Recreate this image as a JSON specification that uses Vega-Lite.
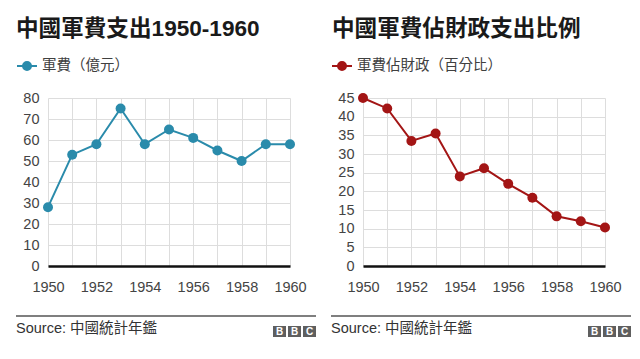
{
  "$schema": "https://vega.github.io/schema/vega-lite/v6.json",
  "padding": {"left": 15, "top": 18, "right": 0, "bottom": 0},
  "background": "white",
  "config": {
    "font": "Liberation Sans, Noto Sans CJK TC, sans-serif",
    "view": {"stroke": null},
    "concat": {"spacing": 13},
    "axis": {
      "labelFont": "Liberation Sans, Noto Sans CJK TC, sans-serif",
      "labelFontSize": 14.5,
      "labelColor": "#444444",
      "gridColor": "#dddddd",
      "gridWidth": 1,
      "ticks": false,
      "domain": false,
      "title": null,
      "labelFlush": false,
      "labelOverlap": false
    },
    "title": {"font": "Liberation Sans, Noto Sans CJK TC, sans-serif", "fontWeight": "bold", "color": "#1a1a1a", "anchor": "start", "offset": 14},
    "legend": {"labelFont": "Liberation Sans, Noto Sans CJK TC, sans-serif", "labelFontSize": 14.5, "labelColor": "#404040", "padding": 0, "title": null}
  },
  "resolve": {"scale": {"color": "independent", "x": "independent", "y": "independent"}, "legend": {"color": "independent"}},
  "hconcat": [
    {
      "spacing": 21,
      "resolve": {"scale": {"color": "independent", "x": "independent", "y": "independent"}, "legend": {"color": "independent"}},
      "vconcat": [
        {
          "title": {"text": "中國軍費支出1950-1960", "fontSize": 22.6},
          "width": 242,
          "height": 168,
          "data": {"values": [
            {"year": 1950, "value": 28},
            {"year": 1951, "value": 53},
            {"year": 1952, "value": 58},
            {"year": 1953, "value": 75},
            {"year": 1954, "value": 58},
            {"year": 1955, "value": 65},
            {"year": 1956, "value": 61},
            {"year": 1957, "value": 55},
            {"year": 1958, "value": 50},
            {"year": 1959, "value": 58},
            {"year": 1960, "value": 58}
          ]},
          "encoding": {
            "x": {"field": "year", "type": "quantitative", "scale": {"domain": [1950, 1960], "nice": false, "zero": false},
              "axis": {"values": [1950,1951,1952,1953,1954,1955,1956,1957,1958,1959,1960], "labelExpr": "datum.value % 2 == 0 ? datum.value : ''", "domain": true, "domainColor": "#111111", "domainWidth": 2.5, "labelPadding": 14}},
            "y": {"field": "value", "type": "quantitative", "scale": {"domain": [0, 80], "nice": false},
              "axis": {"values": [0,10,20,30,40,50,60,70,80], "labelPadding": 9, "minExtent": 32, "maxExtent": 32}}
          },
          "layer": [
            {"mark": {"type": "line", "color": "#2a8bab", "strokeWidth": 2}},
            {"mark": {"type": "point", "filled": true, "size": 100, "opacity": 1},
              "encoding": {"color": {"datum": "軍費（億元）", "scale": {"range": ["#2a8bab"]},
                "legend": {"orient": "none", "legendX": -32, "legendY": -43, "symbolType": "M-1,0H1M-0.4,0A0.4,0.4,0,1,1,0.4,0A0.4,0.4,0,1,1,-0.4,0Z", "symbolSize": 400, "symbolStrokeWidth": 2, "symbolStrokeColor": "#2a8bab", "symbolFillColor": "#2a8bab", "labelOffset": 4,
                  "encode": {"symbols": {"update": {"stroke": {"value": "#2a8bab"}, "strokeWidth": {"value": 2}, "fill": {"value": "#2a8bab"}, "opacity": {"value": 1}}}}}}}}
          ]
        },
        {
          "width": 268,
          "height": 28,
          "layer": [
            {"data": {"values": [{"x": 0, "x2": 300, "y": 0}]},
              "mark": {"type": "rule", "color": "#555555", "strokeWidth": 1.5},
              "encoding": {"x": {"field": "x", "type": "quantitative", "scale": {"domain": [32, 300], "nice": false, "zero": false}, "axis": null}, "x2": {"field": "x2"}, "y": {"field": "y", "type": "quantitative", "scale": {"domain": [28, 0], "nice": false, "zero": false}, "axis": null}}},
            {"data": {"values": [{"x": 0, "y": 13, "t": "Source: 中國統計年鑑"}]},
              "mark": {"type": "text", "align": "left", "baseline": "middle", "fontSize": 14.5, "color": "#333333"},
              "encoding": {"x": {"field": "x", "type": "quantitative"}, "y": {"field": "y", "type": "quantitative"}, "text": {"field": "t"}}},
            {"data": {"values": [{"x": 257, "x2": 270, "y": 10, "y2": 21}, {"x": 272, "x2": 285, "y": 10, "y2": 21}, {"x": 287, "x2": 300, "y": 10, "y2": 21}]},
              "mark": {"type": "rect", "color": "#5f5f5f"},
              "encoding": {"x": {"field": "x", "type": "quantitative"}, "x2": {"field": "x2"}, "y": {"field": "y", "type": "quantitative"}, "y2": {"field": "y2"}}},
            {"data": {"values": [{"x": 263.5, "y": 15.8, "l": "B"}, {"x": 278.5, "y": 15.8, "l": "B"}, {"x": 293.5, "y": 15.8, "l": "C"}]},
              "mark": {"type": "text", "align": "center", "baseline": "middle", "fontSize": 10, "fontWeight": "bold", "color": "white"},
              "encoding": {"x": {"field": "x", "type": "quantitative"}, "y": {"field": "y", "type": "quantitative"}, "text": {"field": "l"}}}
          ]
        }
      ]
    },
    {
      "spacing": 21,
      "resolve": {"scale": {"color": "independent", "x": "independent", "y": "independent"}, "legend": {"color": "independent"}},
      "vconcat": [
        {
          "title": {"text": "中國軍費佔財政支出比例", "fontSize": 22.6, "dx": 1},
          "width": 242,
          "height": 168,
          "data": {"values": [
            {"year": 1950, "value": 45},
            {"year": 1951, "value": 42.2},
            {"year": 1952, "value": 33.5},
            {"year": 1953, "value": 35.5},
            {"year": 1954, "value": 24},
            {"year": 1955, "value": 26.2},
            {"year": 1956, "value": 22},
            {"year": 1957, "value": 18.3},
            {"year": 1958, "value": 13.3},
            {"year": 1959, "value": 12},
            {"year": 1960, "value": 10.3}
          ]},
          "encoding": {
            "x": {"field": "year", "type": "quantitative", "scale": {"domain": [1950, 1960], "nice": false, "zero": false},
              "axis": {"values": [1950,1951,1952,1953,1954,1955,1956,1957,1958,1959,1960], "labelExpr": "datum.value % 2 == 0 ? datum.value : ''", "domain": true, "domainColor": "#111111", "domainWidth": 2.5, "labelPadding": 14}},
            "y": {"field": "value", "type": "quantitative", "scale": {"domain": [0, 45], "nice": false},
              "axis": {"values": [0,5,10,15,20,25,30,35,40,45], "labelPadding": 9, "minExtent": 32, "maxExtent": 32}}
          },
          "layer": [
            {"mark": {"type": "line", "color": "#a31515", "strokeWidth": 2}},
            {"mark": {"type": "point", "filled": true, "size": 100, "opacity": 1},
              "encoding": {"color": {"datum": "軍費佔財政（百分比）", "scale": {"range": ["#a31515"]},
                "legend": {"orient": "none", "legendX": -32, "legendY": -43, "symbolType": "M-1,0H1M-0.4,0A0.4,0.4,0,1,1,0.4,0A0.4,0.4,0,1,1,-0.4,0Z", "symbolSize": 400, "symbolStrokeWidth": 2, "symbolStrokeColor": "#a31515", "symbolFillColor": "#a31515", "labelOffset": 4,
                  "encode": {"symbols": {"update": {"stroke": {"value": "#a31515"}, "strokeWidth": {"value": 2}, "fill": {"value": "#a31515"}, "opacity": {"value": 1}}}}}}}}
          ]
        },
        {
          "width": 268,
          "height": 28,
          "layer": [
            {"data": {"values": [{"x": 0, "x2": 300, "y": 0}]},
              "mark": {"type": "rule", "color": "#555555", "strokeWidth": 1.5},
              "encoding": {"x": {"field": "x", "type": "quantitative", "scale": {"domain": [32, 300], "nice": false, "zero": false}, "axis": null}, "x2": {"field": "x2"}, "y": {"field": "y", "type": "quantitative", "scale": {"domain": [28, 0], "nice": false, "zero": false}, "axis": null}}},
            {"data": {"values": [{"x": 0, "y": 13, "t": "Source: 中國統計年鑑"}]},
              "mark": {"type": "text", "align": "left", "baseline": "middle", "fontSize": 14.5, "color": "#333333"},
              "encoding": {"x": {"field": "x", "type": "quantitative"}, "y": {"field": "y", "type": "quantitative"}, "text": {"field": "t"}}},
            {"data": {"values": [{"x": 257, "x2": 270, "y": 10, "y2": 21}, {"x": 272, "x2": 285, "y": 10, "y2": 21}, {"x": 287, "x2": 300, "y": 10, "y2": 21}]},
              "mark": {"type": "rect", "color": "#5f5f5f"},
              "encoding": {"x": {"field": "x", "type": "quantitative"}, "x2": {"field": "x2"}, "y": {"field": "y", "type": "quantitative"}, "y2": {"field": "y2"}}},
            {"data": {"values": [{"x": 263.5, "y": 15.8, "l": "B"}, {"x": 278.5, "y": 15.8, "l": "B"}, {"x": 293.5, "y": 15.8, "l": "C"}]},
              "mark": {"type": "text", "align": "center", "baseline": "middle", "fontSize": 10, "fontWeight": "bold", "color": "white"},
              "encoding": {"x": {"field": "x", "type": "quantitative"}, "y": {"field": "y", "type": "quantitative"}, "text": {"field": "l"}}}
          ]
        }
      ]
    }
  ]
}
